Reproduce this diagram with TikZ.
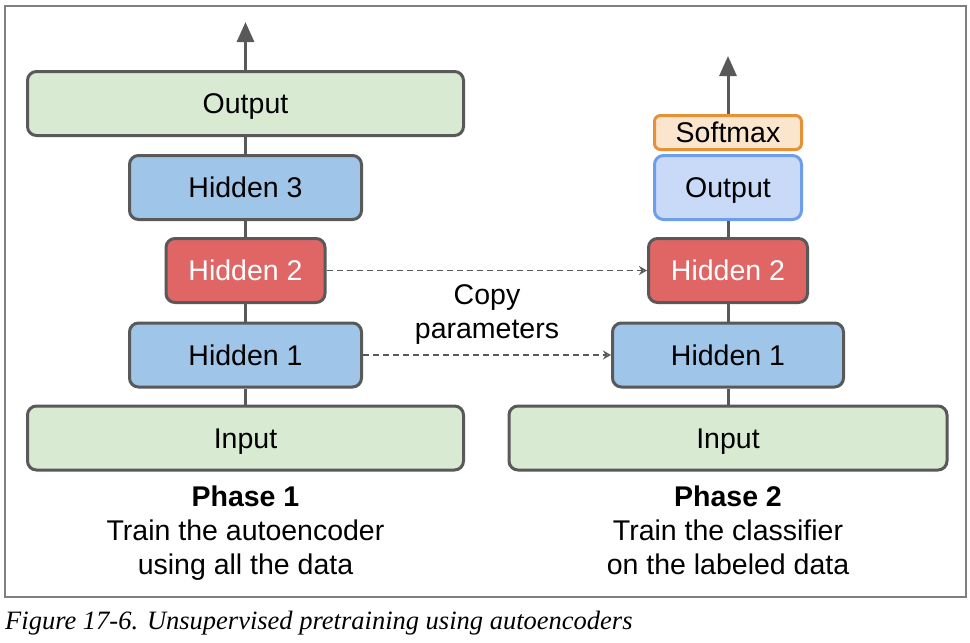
\documentclass[tikz,border=0pt]{standalone}
\usepackage{fontspec}
\setmainfont{Liberation Sans}
\newfontfamily\capfont{Liberation Serif}
\usetikzlibrary{arrows.meta}
\definecolor{edgegray}{HTML}{595959}
\definecolor{framegray}{HTML}{7F7F7F}
\definecolor{greenfill}{HTML}{D9EAD3}
\definecolor{bluefill}{HTML}{9FC5E8}
\definecolor{redfill}{HTML}{E06666}
\definecolor{softfill}{HTML}{FCE5CD}
\definecolor{softedge}{HTML}{E69138}
\definecolor{outfill}{HTML}{C9DAF8}
\definecolor{outedge}{HTML}{6D9EEB}
\tikzset{
  layer/.style={draw=edgegray, line width=3pt, rounded corners=9pt, inner sep=0pt,
    minimum height=64pt, font=\fontsize{28.5}{34}\selectfont, text=black,
    text height=20.4pt, text depth=0pt},
  greenbox/.style={layer, fill=greenfill},
  bluebox/.style={layer, fill=bluefill},
  redbox/.style={layer, fill=redfill, text=white},
  softbox/.style={layer, fill=softfill, draw=softedge, minimum height=34pt, rounded corners=6pt},
  outbox/.style={layer, fill=outfill, draw=outedge},
  link/.style={draw=edgegray, line width=3pt},
  uparrow/.style={link, -{Triangle[width=17pt,length=20pt]}},
  copyarrow/.style={draw=edgegray, line width=1.5pt, dashed, dash pattern=on 6pt off 4pt, -{Stealth[width=9pt,length=8pt,open]}},
  caption/.style={font=\fontsize{28.5}{34}\selectfont, align=center, text=black},
}
\begin{document}
\begin{tikzpicture}[x=1pt,y=-1pt]
\useasboundingbox (0,0) rectangle (970,643);
\fill[white] (0,0) rectangle (970,643);
\draw[framegray, line width=1.5pt] (5,6) rectangle (966,597);

% Phase 1
\node[greenbox, minimum width=436pt] (in1) at (245.5,438) {Input};
\node[bluebox, minimum width=232pt] (h11) at (245.5,355) {Hidden 1};
\node[redbox, minimum width=159pt] (h21) at (245.5,270.5) {Hidden 2};
\node[bluebox, minimum width=232pt] (h31) at (245.5,187.5) {Hidden 3};
\node[greenbox, minimum width=436pt] (out1) at (245.5,103.5) {Output};
\coordinate (top1) at (245.5,22);

\draw[link] (in1.north) -- (h11.south);
\draw[link] (h11.north) -- (h21.south);
\draw[link] (h21.north) -- (h31.south);
\draw[link] (h31.north) -- (out1.south);
\draw[uparrow] (out1.north) -- (top1);

% Phase 2
\node[greenbox, minimum width=438pt] (in2) at (728,438) {Input};
\node[bluebox, minimum width=231pt] (h12) at (728,355) {Hidden 1};
\node[redbox, minimum width=159pt] (h22) at (728,270.5) {Hidden 2};
\node[outbox, minimum width=147pt] (out2) at (728,187.5) {Output};
\node[softbox, minimum width=147pt] (soft2) at (728,132.5) {Softmax};
\coordinate (top2) at (728,56);

\draw[link] (in2.north) -- (h12.south);
\draw[link] (h12.north) -- (h22.south);
\draw[link] (h22.north) -- (out2.south);
\draw[uparrow] (soft2.north) -- (top2);

% copy arrows
\draw[copyarrow] (h21.east) -- (h22.west);
\draw[copyarrow] (h11.east) -- (h12.west);
\node[caption] (copy) at (487,315) {Copy\\parameters};

% phase labels
\node[caption] (ph1) at (245.5,535) {\textbf{Phase 1}\\Train the autoencoder\\using all the data\strut};
\node[caption] (ph2) at (728,535) {\textbf{Phase 2}\\Train the classifier\\on the labeled data\strut};

% figure caption
\node[anchor=base west, inner sep=0pt, font=\capfont\itshape\fontsize{26.5}{30}\selectfont] (figcap) at (5,629) {Figure 17-6. Unsupervised pretraining using autoencoders};
\end{tikzpicture}
\end{document}
